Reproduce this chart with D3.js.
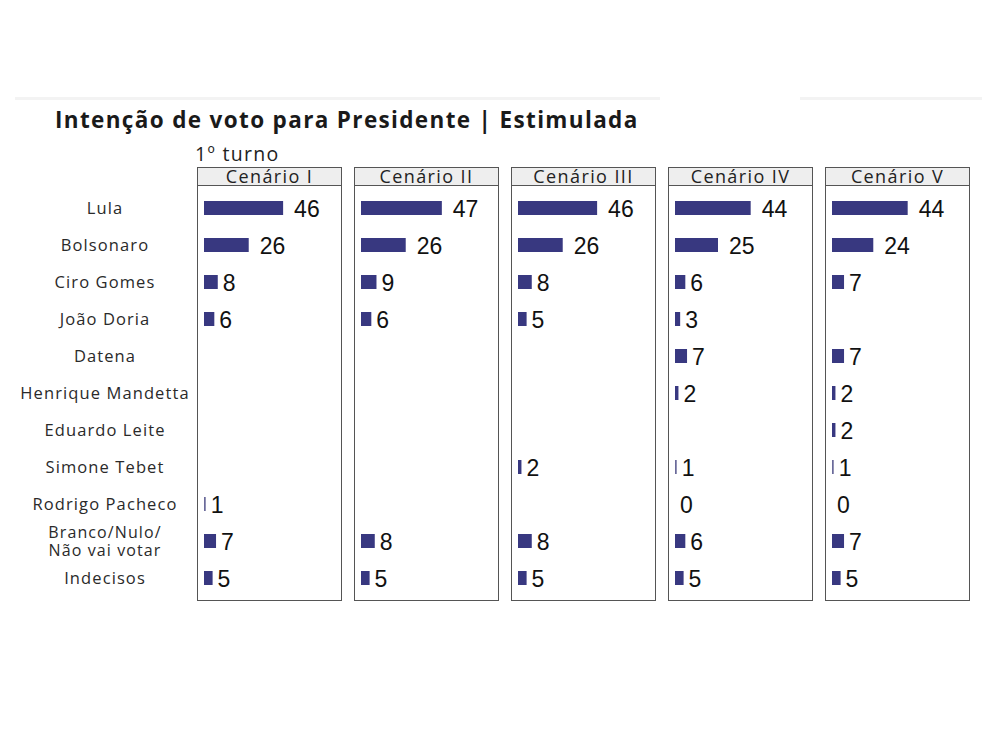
<!DOCTYPE html>
<html><head><meta charset="utf-8">
<script src="https://cdn.jsdelivr.net/npm/d3@7"></script>
<style>body{margin:0;background:#fff}</style>
</head><body>
<script>
const categories = ["Lula","Bolsonaro","Ciro Gomes","João Doria","Datena","Henrique Mandetta","Eduardo Leite","Simone Tebet","Rodrigo Pacheco","Branco/Nulo/\nNão vai votar","Indecisos"];
const scenarios = ["Cenário I","Cenário II","Cenário III","Cenário IV","Cenário V"];
const cenarioI   = [46,26,8,6,null,null,null,null,1,7,5];
const cenarioII  = [47,26,9,6,null,null,null,null,null,8,5];
const cenarioIII = [46,26,8,5,null,null,null,2,null,8,5];
const cenarioIV  = [44,25,6,3,7,2,null,1,0,6,5];
const cenarioV   = [44,24,7,null,7,2,2,1,0,7,5];
const seriesValues = [cenarioI,cenarioII,cenarioIII,cenarioIV,cenarioV];

const W=982,H=737;
const svg=d3.select("body").append("svg").attr("width",W).attr("height",H);

svg.append("rect").attr("x",15).attr("y",97).attr("width",645).attr("height",3).attr("fill","#f3f3f3");
svg.append("rect").attr("x",800).attr("y",97).attr("width",182).attr("height",3).attr("fill","#f3f3f3");

svg.append("text").attr("x",55).attr("y",128)
  .style("font-family","'Open Sans',sans-serif").style("font-weight",700).style("font-size","22.5px")
  .style("letter-spacing","1.35px")
  .attr("fill","#1a1a1a").text("Intenção de voto para Presidente | Estimulada");
svg.append("text").attr("x",195).attr("y",160.5)
  .style("font-family","'Open Sans',sans-serif").style("font-weight",400).style("font-size","19.5px")
  .style("letter-spacing","1.3px")
  .attr("fill","#222").text("1º turno");

const px=d3.scaleBand().domain(scenarios).range([197,970]).paddingInner(12/157).paddingOuter(0);
const py=d3.scalePoint().domain(categories).range([208,578]);
const x=d3.scaleLinear().domain([0,50]).range([0,86]);

const panelTop=167, headH=18, panelBottom=600;

const lab=svg.append("g");
categories.forEach(c=>{
  const lines=c.split("\n");
  lines.forEach((l,i)=>{
    lab.append("text").attr("x",105).attr("text-anchor","middle")
      .style("font-family","'Open Sans',sans-serif")
      .style("font-size",lines.length>1?"16px":"16.5px")
      .style("letter-spacing","1.1px").attr("fill","#2a2a2a")
      .attr("y",py(c)+6+(i-(lines.length-1)/2)*18).text(l);
  });
});

scenarios.forEach((s,si)=>{
  const g=svg.append("g").attr("transform",`translate(${px(s)},0)`);
  const bw=px.bandwidth();
  g.append("rect").attr("x",0.5).attr("y",panelTop+0.5).attr("width",bw-1).attr("height",headH)
    .attr("fill","#eeeeee").attr("stroke","#555").attr("stroke-width",1);
  g.append("rect").attr("x",0.5).attr("y",panelTop+headH+0.5).attr("width",bw-1).attr("height",panelBottom-panelTop-headH)
    .attr("fill","#fff").attr("stroke","#555").attr("stroke-width",1);
  g.append("text").attr("x",bw/2).attr("y",panelTop+headH-2).attr("text-anchor","middle")
    .style("font-family","'Open Sans',sans-serif").style("font-weight",400).style("font-size","18px")
    .style("letter-spacing","1.4px")
    .attr("fill","#222").text(s);
  const vals=seriesValues[si];
  categories.forEach((c,ci)=>{
    const v=vals[ci];
    if(v===null) return;
    const x0=7;
    if(v>0){
      g.append("rect").attr("x",x0).attr("y",py(c)-7).attr("width",Math.max(x(v),1.5)).attr("height",14)
        .attr("fill",v===1?"#6a6a9a":"#383880");
    }
    const off = v>=20?11:5;
    g.append("text").attr("x",x0+x(v)+off).attr("y",py(c)+8.5)
      .style("font-family","'Liberation Sans',Arial,sans-serif").style("font-size","23px")
      .attr("fill","#111").text(v);
  });
});
</script>
</body></html>
